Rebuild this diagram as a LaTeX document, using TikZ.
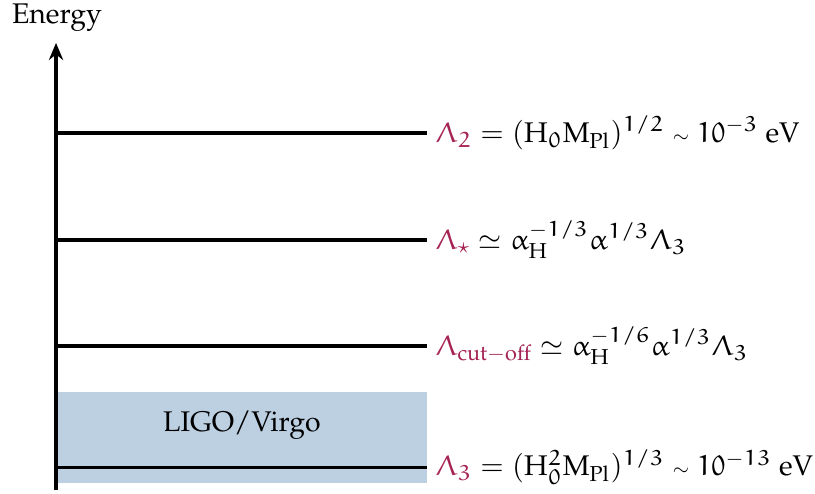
\documentclass[tikz,border=0pt]{standalone}
\usepackage[T1]{fontenc}
\usepackage{mathpazo}
\usepackage{graphicx}
\DeclareSymbolFont{eul}{U}{eur}{m}{n}
\DeclareMathSymbol{\eLambda}{\mathord}{eul}{"03}
\DeclareMathSymbol{\ealpha}{\mathord}{eul}{"0B}
\DeclareMathSymbol{0}{\mathord}{eul}{"30}
\DeclareMathSymbol{1}{\mathord}{eul}{"31}
\DeclareMathSymbol{2}{\mathord}{eul}{"32}
\DeclareMathSymbol{3}{\mathord}{eul}{"33}
\DeclareMathSymbol{6}{\mathord}{eul}{"36}
\newcommand{\smallsim}{\mathrel{\scalebox{0.7}{$\sim$}}}
\usetikzlibrary{arrows.meta}
\definecolor{lamcol}{RGB}{165,35,85}
\definecolor{ligo}{RGB}{189,208,226}
\tikzset{
  level/.style={line width=1.1pt},
  lab/.style={anchor=west,inner sep=3pt},
  axisline/.style={line width=1.1pt,-{Stealth[length=6pt,width=5pt]}}
}
\begin{document}
\begin{tikzpicture}[scale=1.02]
\useasboundingbox (0,0) rectangle (9.879,5.976);
\fill[ligo] (0.695,0.125) rectangle (5.172,1.224);
\node (ligo) at (2.933,0.824) {LIGO/Virgo};
\coordinate (a0) at (0.679,0.036);
\coordinate (a1) at (0.679,5.455);
\node (energy) at (0.691,5.758) {Energy};
\draw[axisline] (a0) -- (a1);
\coordinate (s2) at (0.679,4.364);
\coordinate (ss) at (0.679,3.067);
\coordinate (sc) at (0.679,1.782);
\coordinate (s3) at (0.679,0.311);
\node[lab] (L2) at (5.170,4.364) {$\textcolor{lamcol}{\eLambda_2} = (\mathrm{H}_0 \mathrm{M}_{\mathrm{Pl}})^{1/2} \smallsim 10^{-3}~\mathrm{eV}$};
\node[lab] (Ls) at (5.170,3.067) {$\textcolor{lamcol}{\eLambda_\star} \simeq \ealpha_{\mathrm{H}}^{-1/3}\ealpha^{1/3}\eLambda_3$};
\node[lab] (Lc) at (5.170,1.782) {$\textcolor{lamcol}{\eLambda_{\mathrm{cut-off}}} \simeq \ealpha_{\mathrm{H}}^{-1/6}\ealpha^{1/3}\eLambda_3$};
\node[lab] (L3) at (5.170,0.311) {$\textcolor{lamcol}{\eLambda_3} = (\mathrm{H}_0^2 \mathrm{M}_{\mathrm{Pl}})^{1/3} \smallsim 10^{-13}~\mathrm{eV}$};
\draw[level] (s2) -- (L2.west);
\draw[level] (ss) -- (Ls.west);
\draw[level] (sc) -- (Lc.west);
\draw[level] (s3) -- (L3.west);
\end{tikzpicture}
\end{document}
